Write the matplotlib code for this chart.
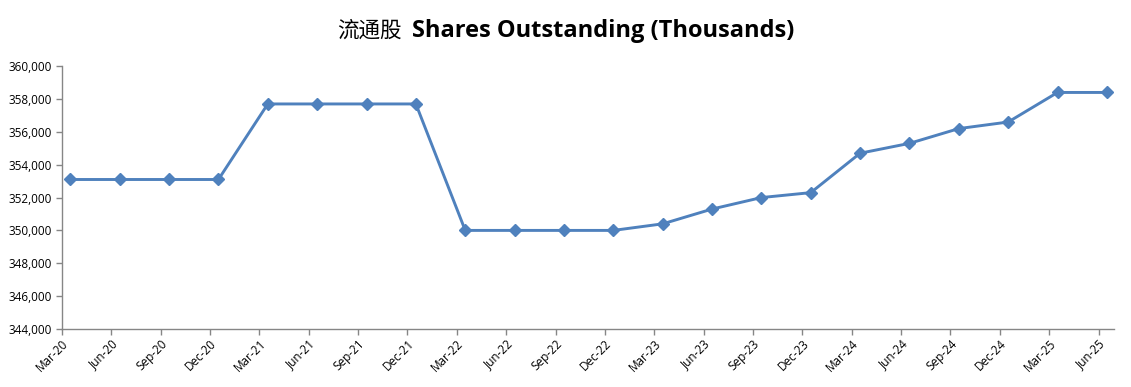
import matplotlib
matplotlib.use("Agg")
import matplotlib.pyplot as plt
from matplotlib.ticker import FuncFormatter

# --- data ---
quarters = ['Mar-20', 'Jun-20', 'Sep-20', 'Dec-20', 'Mar-21', 'Jun-21', 'Sep-21', 'Dec-21',
            'Mar-22', 'Jun-22', 'Sep-22', 'Dec-22', 'Mar-23', 'Jun-23', 'Sep-23', 'Dec-23',
            'Mar-24', 'Jun-24', 'Sep-24', 'Dec-24', 'Mar-25', 'Jun-25']
shares = [353100, 353100, 353100, 353100, 357700, 357700, 357700, 357700,
          350000, 350000, 350000, 350000, 350400, 351300, 352000, 352300,
          354700, 355300, 356200, 356600, 358400, 358400]

LINE_COLOR = '#4F81BD'
AXIS_COLOR = '#868686'

fig = plt.figure(figsize=(11.31, 3.87), dpi=100, facecolor='white')
ax = fig.add_axes([0.0548, 0.150, 0.930, 0.679])

# points sit a little right of their month tick (date axis in the original)
tick_pos = list(range(len(quarters)))
pt_pos = [i + 0.17 for i in tick_pos]

ax.plot(pt_pos, shares, color=LINE_COLOR, lw=2.1, marker='D', markersize=6.5,
        markerfacecolor=LINE_COLOR, markeredgecolor=LINE_COLOR, solid_joinstyle='round')

ax.set_xlim(0, len(quarters) - 1 + 0.31)
ax.set_ylim(344000, 360000)
ax.set_yticks(range(344000, 360001, 2000))
ax.yaxis.set_major_formatter(FuncFormatter(lambda v, p: f"{int(v):,}"))

ax.set_xticks(tick_pos)
ax.set_xticklabels(quarters, rotation=45, ha='right', rotation_mode='anchor')

for side in ['top', 'right']:
    ax.spines[side].set_visible(False)
for side in ['left', 'bottom']:
    ax.spines[side].set_color(AXIS_COLOR)
    ax.spines[side].set_linewidth(1.0)

ax.tick_params(axis='both', direction='out', length=4, width=1.0, color=AXIS_COLOR,
               labelsize=8.5, labelcolor='black')
ax.tick_params(axis='x', pad=2)
ax.tick_params(axis='y', pad=3)
for lbl in ax.get_xticklabels() + ax.get_yticklabels():
    lbl.set_family('Open Sans')

# title: CJK part regular, English part bold
fig.text(402 / 1131, 1 - 31 / 387, '流通股', ha='right', va='center', fontsize=15.5,
         family=['Noto Sans CJK SC', 'DejaVu Sans'])
fig.text(412 / 1131, 1 - 31 / 387, 'Shares Outstanding (Thousands)', ha='left', va='center',
         fontsize=17, fontweight='bold', family=['Open Sans', 'DejaVu Sans'])

fig.savefig('out.png', dpi=100, facecolor='white')
